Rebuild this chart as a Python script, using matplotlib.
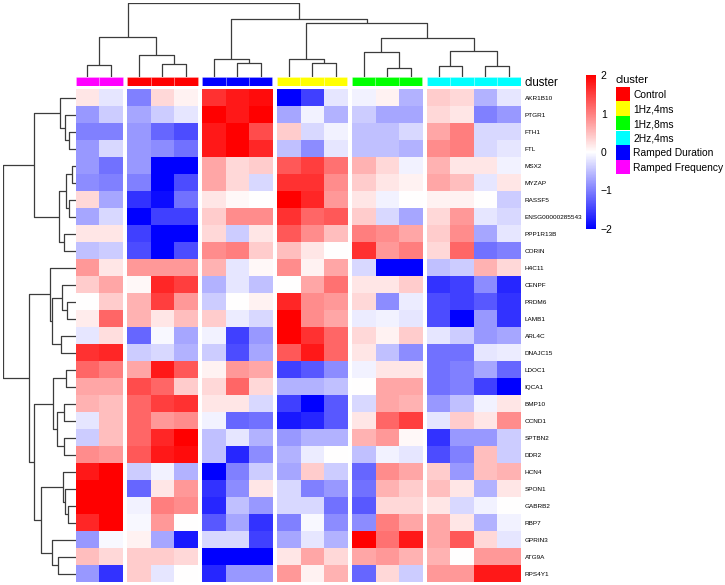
import numpy as np
import matplotlib
matplotlib.use("Agg")
import matplotlib.pyplot as plt
from matplotlib.colors import LinearSegmentedColormap, Normalize
from matplotlib.cm import ScalarMappable

plt.rcParams['font.family'] = ['Liberation Sans', 'DejaVu Sans']

genes = ['AKR1B10', 'PTGR1', 'FTH1', 'FTL', 'MSX2', 'MYZAP', 'RASSF5',
         'ENSG00000285543', 'PPP1R13B', 'CORIN', 'H4C11', 'CENPF', 'PRDM6',
         'LAMB1', 'ARL4C', 'DNAJC15', 'LDOC1', 'IQCA1', 'BMP10', 'CCND1',
         'SPTBN2', 'DDR2', 'HCN4', 'SPON1', 'GABRB2', 'RBP7', 'GPRIN3',
         'ATG9A', 'RPS4Y1']

# z-scores per sample, one array per cluster (rows follow genes)
ramped_freq = [[0.2, -0.2], [-0.8, -0.4], [-1.0, -1.0], [-0.8, -0.3], [-0.8, -1.1],
               [-0.9, -1.0], [0.3, -0.7], [-0.7, -0.3], [0.2, 0.2], [-0.5, -0.4],
               [0.8, 0.2], [0.4, 0.7], [0.0, 0.4], [0.15, 1.2], [-0.2, 0.25],
               [1.6, 1.7], [1.2, 1.0], [0.7, 0.7], [0.6, 0.5], [-0.2, 0.5],
               [-0.4, 0.5], [0.9, 0.8], [1.8, 2.0], [2.0, 2.0], [2.0, 2.0],
               [1.7, 2.0], [-0.8, -0.05], [0.5, 0.3], [-0.8, -1.6]]
control = [[-1.0, 0.3, 0.1], [-0.7, -0.4, -0.2], [-0.8, -1.2, -1.4], [-0.8, -0.9, -1.1],
           [-0.8, -2.0, -2.0], [-1.0, -2.0, -1.4], [-1.6, -1.9, -1.1], [-2.0, -1.5, -1.5],
           [-1.5, -2.0, -2.0], [-1.4, -2.0, -1.4], [0.8, 0.8, 0.8], [0.05, 1.7, 1.5],
           [0.6, 1.5, 0.8], [0.6, 0.2, 0.5], [-1.2, -0.05, -0.7], [-0.4, -0.3, -0.6],
           [0.7, 1.8, 1.3], [1.4, 1.2, 0.4], [1.2, 1.5, 1.6], [1.2, 0.8, 0.9],
           [1.2, 1.7, 2.0], [1.3, 1.8, 1.9], [-0.4, -0.1, -0.6], [-1.2, 0.2, 0.8],
           [-0.1, 1.0, 0.9], [-0.05, 0.8, 0.0], [0.1, -0.7, -1.8], [0.4, 0.4, 0.3],
           [0.4, -0.2, 0.0]]
ramped_dur = [[1.6, 1.8, 1.9], [2.0, 1.8, 2.0], [1.8, 2.0, 1.4], [1.8, 2.0, 1.7],
              [0.7, 0.3, 0.4], [0.7, 0.3, -0.3], [0.2, 0.05, 0.0], [0.4, 0.9, 0.9],
              [0.3, -0.4, 0.2], [0.9, 1.0, 0.4], [0.6, -0.2, 0.05], [-0.6, -0.2, -0.5],
              [-0.4, 0.0, 0.1], [0.4, -0.15, -0.3], [-0.1, -1.5, -0.8], [-0.4, -1.4, -0.7],
              [0.1, 0.8, 0.7], [0.3, 1.2, 0.3], [0.2, 0.2, -0.3], [-0.1, -1.2, -1.1],
              [-0.5, -0.2, -0.6], [-0.5, -1.7, -0.9], [-2.0, -1.0, -0.4], [-1.6, -0.9, 0.2],
              [-1.7, -0.5, -0.8], [-1.3, -0.7, -1.6], [-0.3, -0.3, -1.5], [-2.0, -2.0, -2.0],
              [-1.7, -0.8, -0.8]]
hz1_4ms = [[-2.0, -1.5, -0.2], [-0.7, -0.1, -0.6], [0.4, -0.3, -0.1], [-0.5, -0.9, -0.2],
           [1.3, 1.5, 1.1], [1.6, 1.6, 0.9], [2.0, 1.7, 0.8], [1.6, 1.2, 1.3],
           [1.3, 0.9, 0.5], [0.5, 0.2, 0.0], [0.9, 0.1, 0.7], [0.0, 0.7, 1.1],
           [1.7, 0.9, 0.8], [2.0, 0.9, 0.7], [2.0, 1.6, 1.2], [1.3, 1.8, 1.2],
           [-1.5, -1.3, -0.9], [-0.6, -0.6, -0.5], [-1.5, -2.0, -1.3], [-1.8, -1.7, -1.3],
           [-0.8, -0.6, -0.6], [-0.6, -0.15, 0.0], [-0.7, 0.4, -0.4], [-0.3, -1.0, -0.8],
           [-0.3, -0.3, -1.1], [-1.0, -0.05, -0.9], [-0.7, -0.2, -0.6], [0.2, 0.7, 0.3],
           [0.8, 0.1, 0.6]]
hz1_8ms = [[-0.1, 0.1, -0.6], [-0.4, -0.7, -0.7], [-0.5, -0.5, -0.3], [-0.5, -0.5, -0.6],
           [0.6, 0.3, -0.1], [0.4, 0.2, 0.1], [0.2, -0.1, 0.0], [0.4, -0.3, -0.7],
           [1.0, 0.9, 0.7], [1.6, 0.8, 1.0], [-0.3, -2.0, -2.0], [0.2, 0.2, 0.4],
           [0.3, -0.9, -0.15], [-0.15, -0.1, -0.2], [0.3, 0.1, 0.4], [0.2, -0.5, -0.9],
           [-0.1, 0.2, 0.2], [0.0, 0.7, 0.7], [-0.3, 0.7, 0.6], [0.2, 1.2, 1.5],
           [0.6, 0.8, 0.05], [-0.5, -0.1, -0.2], [-1.2, 0.9, 0.7], [-1.1, 0.6, 0.4],
           [-1.3, 0.3, 0.3], [-0.9, 1.0, 0.7], [2.0, 1.1, 1.8], [0.7, 0.8, 0.6],
           [-1.2, 0.3, -0.4]]
hz2_4ms = [[0.4, 0.3, -0.6, -0.2], [0.3, 0.2, -1.0, -0.8], [0.7, 1.0, -0.3, -0.3],
           [0.9, 1.0, -0.3, -0.2], [0.6, 0.2, 0.2, -0.1], [0.7, 0.5, -0.2, 0.2],
           [0.1, 0.1, 0.0, -0.4], [0.3, 0.8, -0.2, -0.3], [0.4, 0.9, -0.7, -0.2],
           [0.3, 1.2, -1.1, -1.0], [-0.5, -0.4, 0.6, 0.3], [-1.6, -1.5, -0.9, -1.7],
           [-1.4, -1.5, -1.3, -1.6], [-1.4, -2.0, -0.8, -1.6], [-0.2, -0.4, -0.8, -0.7],
           [-1.1, -1.1, -0.2, -0.15], [-1.1, -1.0, -0.7, -1.2], [-1.1, -1.0, -1.5, -2.0],
           [-0.8, -0.5, -0.1, 0.2], [-0.2, 0.4, 0.2, 0.9], [-1.6, -0.8, -0.8, -0.4],
           [-1.4, -1.0, 0.5, -0.4], [0.4, -0.8, 0.5, 0.6], [0.5, 0.2, -0.6, 0.2],
           [0.2, -0.3, -0.1, 0.0], [0.7, 0.2, -0.6, -0.1], [0.7, 1.3, 0.3, -0.2],
           [0.6, 0.0, 0.8, 0.8], [0.8, 0.8, 1.8, 1.8]]

# column order in the chart
col_groups = [ramped_freq, control, ramped_dur, hz1_4ms, hz1_8ms, hz2_4ms]
col_colors = ['#FF00FF', '#FF0000', '#0000FF', '#FFFF00', '#00FF00', '#00FFFF']

legend_names = ['Control', '1Hz,4ms', '1Hz,8ms', '2Hz,4ms', 'Ramped Duration', 'Ramped Frequency']
legend_colors = ['#FF0000', '#FFFF00', '#00FF00', '#00FFFF', '#0000FF', '#FF00FF']

# dendrograms: (left, right, merge height), leaves are indices
col_tree = (((0, 1, 11.7), (2, (3, 4, 12.4), 21.4), 39.4),
            ((5, (6, 7, 13.7), 17.4),
             ((8, (9, 10, 13.7), 17.4),
              ((11, (12, 13, 8.7), 25), ((14, 15, 11), (16, 17, 11), 26), 38.4), 54), 57.4), 74)
row_tree = (((0, (1, (2, 3, 6.3), 10.7), 15.7),
             (((4, 5, 4), (6, 7, 6.3), 10), (8, 9, 11.3), 17), 42),
            ((10, ((11, (12, 13, 9), 14), (14, 15, 14.7), 23.3), 25.7),
             (((16, 17, 9.7), ((18, 19, 11.7), (20, 21, 11.7), 19), 22.3),
              ((22, (23, (24, 25, 8), 11), 12.3), (26, (27, 28, 17.3), 23.3), 35), 41.3), 46.7), 73)

W, H = 725, 585
fig = plt.figure(figsize=(W / 100, H / 100), dpi=100)


def px_axes(x0, y0, x1, y1):
    ax = fig.add_axes([x0 / W, 1 - y1 / H, (x1 - x0) / W, (y1 - y0) / H])
    return ax


cmap = LinearSegmentedColormap.from_list('bwr2', ['#0000FF', '#FFFFFF', '#FF0000'])
norm = Normalize(-2, 2)
gap = 0.19
n_rows = len(genes)

# x positions of column groups
starts = []
centers = []
pos = 0
for grp in col_groups:
    n = len(grp[0])
    starts.append(pos)
    centers += [pos + k + 0.5 for k in range(n)]
    pos += n + gap
x_total = pos - gap

ax = px_axes(75.7, 89.3, 520.7, 582.3)
for grp, x0 in zip(col_groups, starts):
    arr = np.array(grp)
    ax.imshow(arr, cmap=cmap, norm=norm, aspect='auto', interpolation='nearest',
              extent=(x0, x0 + arr.shape[1], n_rows, 0))
ax.set_xlim(0, x_total)
ax.set_ylim(n_rows, 0)
ax.set_xticks([])
ax.yaxis.tick_right()
ax.set_yticks(np.arange(n_rows) + 0.5)
ax.set_yticklabels(genes, fontsize=4.6)
ax.tick_params(axis='y', length=0, pad=3)
for s in ax.spines.values():
    s.set_visible(False)

# annotation bar
ax_ann = px_axes(75.7, 76.7, 520.7, 86.3)
bar_colors = []
for grp, c in zip(col_groups, col_colors):
    bar_colors += [c] * len(grp[0])
ax_ann.bar(centers, 1, width=1, bottom=0, color=bar_colors,
           edgecolor=(1, 1, 1, 0.35), linewidth=0.4)
ax_ann.set_xlim(0, x_total)
ax_ann.set_ylim(0, 1)
ax_ann.set_xticks([])
ax_ann.yaxis.tick_right()
ax_ann.set_yticks([0.5])
ax_ann.set_yticklabels(['cluster'], fontsize=8.3)
ax_ann.tick_params(axis='y', length=0, pad=3)
for s in ax_ann.spines.values():
    s.set_visible(False)


def draw_tree(axd, node, leaf_pos, top):
    if isinstance(node, int):
        return leaf_pos[node], 0
    l, r, h = node
    pl, hl = draw_tree(axd, l, leaf_pos, top)
    pr, hr = draw_tree(axd, r, leaf_pos, top)
    if top:
        axd.plot([pl, pl, pr, pr], [hl, h, h, hr], color='#3c3c3c', lw=0.9,
                 solid_capstyle='butt')
    else:
        axd.plot([hl, h, h, hr], [pl, pl, pr, pr], color='#3c3c3c', lw=0.9,
                 solid_capstyle='butt')
    return (pl + pr) / 2, h


ax_top = px_axes(75.7, 2.7, 520.7, 76.7)
draw_tree(ax_top, col_tree, centers, True)
ax_top.set_xlim(0, x_total)
ax_top.set_ylim(0, 74)
ax_top.axis('off')

ax_left = px_axes(2.7, 89.3, 75.7, 582.3)
draw_tree(ax_left, row_tree, list(np.arange(n_rows) + 0.5), False)
ax_left.set_xlim(73, 0)
ax_left.set_ylim(n_rows, 0)
ax_left.axis('off')

# colour scale
ax_cb = px_axes(586, 75, 596, 229)
cb = fig.colorbar(ScalarMappable(norm=norm, cmap=cmap), cax=ax_cb, ticks=[-2, -1, 0, 1, 2])
cb.outline.set_visible(False)
ax_cb.tick_params(length=0, pad=3.5, labelsize=7.5)

# cluster legend
ax_leg = px_axes(615.7, 86.7, 630, 174.3)
ax_leg.barh(np.arange(len(legend_names)), 1, height=1, color=legend_colors)
ax_leg.set_xlim(0, 1)
ax_leg.set_ylim(len(legend_names) - 0.5, -0.5)
ax_leg.set_xticks([])
ax_leg.yaxis.tick_right()
ax_leg.set_yticks(np.arange(len(legend_names)))
ax_leg.set_yticklabels(legend_names, fontsize=7.4)
ax_leg.tick_params(axis='y', length=0, pad=2.4)
for s in ax_leg.spines.values():
    s.set_visible(False)
ax_leg.set_title('cluster', loc='left', fontsize=8, pad=2.5)

fig.savefig('out.png', dpi=100)
